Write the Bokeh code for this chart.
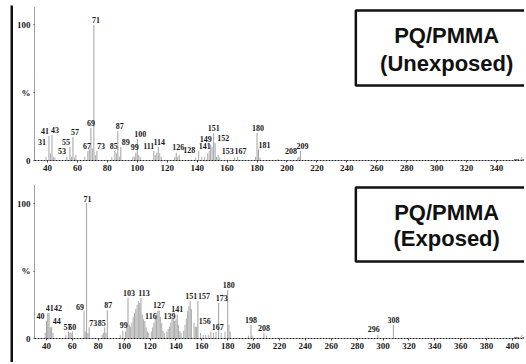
from bokeh.plotting import figure
from bokeh.models import BoxAnnotation, Label, FixedTicker, ColumnDataSource, Range1d, Spacer
from bokeh.layouts import column, row
from bokeh.embed import file_html
from bokeh.resources import INLINE
from bokeh.core.properties import value

# ---------------- data (m/z, relative intensity %) ----------------
# Top panel: PQ/PMMA (Unexposed) - labelled peaks
top_mz = [31, 41, 43, 53, 55, 57, 67, 69, 71, 73, 85, 87, 89, 99, 100, 111, 114,
          126, 128, 141, 149, 151, 152, 153, 167, 180, 181, 208, 209]
top_int = [10, 18, 19, 3, 10, 17, 7, 24, 100, 7, 7, 22, 10, 6, 16, 7, 10,
           6, 4, 7, 12, 20, 13, 3, 3, 20, 8, 3, 7]
# unlabelled minor peaks
top_minor_mz = [39, 42, 44, 45, 56, 58, 59, 65, 68, 70, 72, 83, 86, 88, 97, 98, 101, 102,
                112, 113, 115, 116, 125, 127, 139, 143, 145, 147, 148, 150, 154, 155,
                165, 179, 182, 194, 207]
top_minor_int = [3, 5, 3, 2, 3, 2, 4, 3, 8, 9, 4, 3, 5, 3, 3, 3, 4, 3,
                 4, 6, 5, 3, 3, 3, 2, 3, 3, 5, 7, 10, 4, 2,
                 2, 3, 2, 1, 2]

# Bottom panel: PQ/PMMA (Exposed) - labelled peaks
bot_mz = [40, 41, 42, 44, 57, 60, 69, 71, 73, 85, 87, 99, 103, 113, 116, 127, 139,
          141, 151, 157, 156, 167, 173, 180, 198, 208, 296, 308]
bot_int = [13, 19, 19, 9, 5, 5, 20, 100, 8, 8, 21, 6, 30, 30, 13, 21, 13,
           18, 28, 28, 9, 5, 26, 36, 10, 4, 3, 10]
bot_minor_mz = [39, 43, 45, 55, 58, 59, 70, 72, 83, 84, 86, 97, 101, 102, 104, 105, 106,
                107, 108, 109, 110, 111, 112, 114, 115, 117, 118, 119, 121, 122, 123,
                124, 125, 126, 128, 129, 130, 131, 133, 134, 135, 136, 137, 138, 140,
                142, 143, 144, 146, 147, 148, 149, 150, 152, 154, 155, 159, 161, 163,
                165, 169, 171, 175, 178, 181, 182, 196, 199, 210]
bot_minor_int = [4, 8, 4, 3, 4, 4, 5, 4, 3, 4, 4, 3, 5, 8, 10, 9, 12,
                 16, 19, 22, 25, 28, 26, 18, 14, 8, 5, 4, 5, 8, 12,
                 15, 18, 20, 16, 11, 6, 4, 5, 7, 9, 12, 14, 15, 14,
                 10, 6, 4, 6, 10, 15, 20, 24, 22, 12, 9, 4, 3, 3,
                 3, 4, 5, 4, 5, 10, 5, 2, 2, 2]

top_ticks = list(range(40, 341, 20))
bot_ticks = list(range(40, 401, 20))
y_ticks = [0, 50, 100]
y_tick_labels = {0: "0", 50: "%", 100: "100"}

# label nudges (pixels) to keep crowded peak labels apart, as in the original
top_nudge = [8, -4, 3, -5, -4, 2, -1, 0, 2, 4, -1, 2, 5, -1, 3, -5, 1,
             2, 10, 6, -5, 0, 8, 11, 3, 1, 6, -8, 2]
bot_nudge = [-6, 2, 9, 5, -1, 0, -4, 1, 4, -3, 1, 1, 1, 3, 6, 0, -5,
             0, 1, 6, 8, 7, 3, 1, 0, 0, -4, 0]

SERIF = "Liberation Serif"
SANS = "Liberation Sans"
PEAK_COLOR = "#5a5a5a"
INK = "#111111"


def bar(w, h):
    f = figure(width=w, height=h, output_backend="svg", toolbar_location=None,
               min_border=0, x_axis_location=None, y_axis_location=None,
               background_fill_color=INK, border_fill_color=INK,
               outline_line_color=None)
    f.xgrid.visible = False
    f.ygrid.visible = False
    return f


def panel(mz, inten, minor_mz, minor_int, nudge, ticks, xr, yr, h, mb_bottom,
          box, title1, title2, tx, ty1, ty2):
    p = figure(width=511, height=h, output_backend="svg", toolbar_location=None,
               x_range=Range1d(*xr), y_range=Range1d(*yr),
               min_border_left=20, min_border_right=0,
               min_border_top=0, min_border_bottom=mb_bottom,
               background_fill_color="white", border_fill_color="white",
               outline_line_color=None)
    p.xgrid.visible = False
    p.ygrid.visible = False

    # title box (drawn first, peaks never reach it)
    p.add_layout(BoxAnnotation(left=box[0], right=xr[1] + 40, bottom=box[1], top=box[2],
                               fill_color="white", fill_alpha=1,
                               line_color=INK, line_alpha=1, line_width=2.5,
                               level="underlay"))

    # minor peaks
    p.segment(x0=minor_mz, y0=[0] * len(minor_mz), x1=minor_mz, y1=minor_int,
              line_color=PEAK_COLOR, line_width=1, line_dash="1 1")
    # labelled peaks
    src = ColumnDataSource(dict(mz=mz, h=inten, zero=[0] * len(mz),
                                lab=[str(m) for m in mz], dx=nudge))
    p.segment(x0="mz", y0="zero", x1="mz", y1="h", source=src,
              line_color="#444444", line_width=1, line_dash="1 1")
    p.text(x="mz", y="h", text="lab", source=src, x_offset="dx", y_offset=-2,
           text_align="center", text_baseline="bottom",
           text_font=value(SERIF), text_font_style="bold",
           text_font_size="8px", text_color="#1a1a1a")

    # axes
    p.xaxis.ticker = FixedTicker(ticks=ticks)
    p.xaxis.minor_tick_line_color = None
    p.xaxis.major_tick_in = 0
    p.xaxis.major_tick_out = 2
    p.xaxis.major_label_standoff = 2
    p.xaxis.axis_line_dash = "2 1"
    p.xaxis.axis_line_color = "#222222"
    p.xaxis.major_tick_line_color = "#444444"
    p.xaxis.major_label_text_font = SERIF
    p.xaxis.major_label_text_font_style = "bold"
    p.xaxis.major_label_text_font_size = "9px"
    p.xaxis.major_label_text_color = "#1a1a1a"

    p.yaxis.ticker = FixedTicker(ticks=y_ticks)
    p.yaxis.major_label_overrides = y_tick_labels
    p.yaxis.minor_tick_line_color = None
    p.yaxis.major_tick_in = 0
    p.yaxis.major_tick_out = 1
    p.yaxis.major_label_standoff = 3
    p.yaxis.axis_line_dash = "1 1"
    p.yaxis.axis_line_color = "#444444"
    p.yaxis.major_tick_line_color = "#444444"
    p.yaxis.major_label_text_font = SERIF
    p.yaxis.major_label_text_font_style = "bold"
    p.yaxis.major_label_text_font_size = "9px"
    p.yaxis.major_label_text_color = "#1a1a1a"

    p.add_layout(Label(x=xr[1], y=0, text="m/z", text_align="right",
                       text_baseline="middle", text_font=SERIF,
                       text_font_style="italic", text_font_size="8px",
                       text_color="#333333"))

    for txt, ty in ((title1, ty1), (title2, ty2)):
        p.add_layout(Label(x=tx, y=ty, text=txt, text_align="center",
                           text_baseline="middle", text_font=SANS,
                           text_font_style="bold", text_font_size="22px",
                           text_color=INK))
    return p


top = panel(top_mz, top_int, top_minor_mz, top_minor_int, top_nudge, top_ticks,
            (31.33, 358.67), (0, 112.5), 175, 22,
            (246, 55.1, 110.3), "PQ/PMMA", "(Unexposed)", 306.7, 91.9, 71.3)
bottom = panel(bot_mz, bot_int, bot_minor_mz, bot_minor_int, bot_nudge, bot_ticks,
               (30.75, 409.3), (0, 114.1), 178, 24,
               (279, 57.0, 111.9), "PQ/PMMA", "(Exposed)", 349.2, 93.3, 74.1)

inner = column(bar(511, 2), top, bar(511, 2), bottom)
layout = column(Spacer(width=524, height=5),
                row(Spacer(width=10, height=357), bar(3, 357), inner))
open("out.html", "w").write(file_html(layout, INLINE))
